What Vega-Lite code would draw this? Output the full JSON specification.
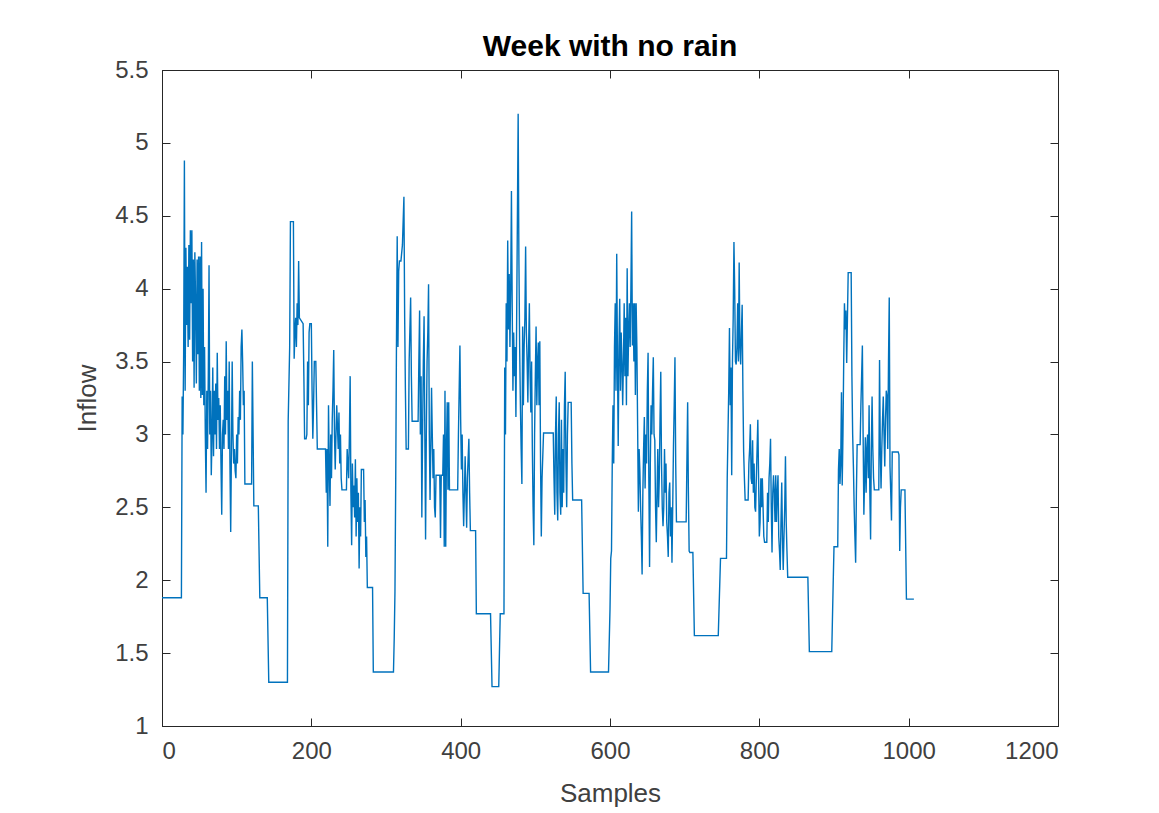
{
"$schema": "https://vega.github.io/schema/vega-lite/v6.json",
"width": 896, "height": 656,
"autosize": {"type": "none"},
"padding": {"left": 162, "top": 70, "right": 101, "bottom": 87},
"background": "white",
"title": {"text": "Week with no rain", "fontSize": 30, "fontWeight": "bold", "font": "Liberation Sans", "color": "#000000", "offset": -4},
"data": {"values": [
{"s":0,"v":1.88},{"s":26,"v":1.88},{"s":27,"v":3.26},{"s":28,"v":3.0},{"s":29,"v":3.55},{"s":30,"v":4.88},{"s":31,"v":3.3},{"s":32,"v":4.28},{"s":33,"v":3.75},{"s":34,"v":4.15},{"s":35,"v":3.6},{"s":36,"v":4.3},{"s":37,"v":3.65},{"s":38,"v":4.4},{"s":39,"v":3.9},{"s":40,"v":4.4},{"s":41,"v":3.5},{"s":42,"v":4.2},{"s":43,"v":3.32},{"s":44,"v":4.25},{"s":45,"v":3.9},{"s":46,"v":3.35},{"s":47,"v":4.2},{"s":48,"v":3.55},{"s":49,"v":4.22},{"s":50,"v":3.3},{"s":51,"v":4.22},{"s":52,"v":3.25},{"s":53,"v":4.32},{"s":54,"v":3.27},{"s":55,"v":4.0},{"s":56,"v":3.2},{"s":57,"v":3.6},{"s":58,"v":3.0},{"s":59,"v":2.6},{"s":60,"v":3.3},{"s":61,"v":2.9},{"s":62,"v":3.4},{"s":63,"v":4.16},{"s":64,"v":3.0},{"s":65,"v":3.3},{"s":66,"v":2.72},{"s":67,"v":3.0},{"s":68,"v":3.46},{"s":69,"v":2.85},{"s":70,"v":3.3},{"s":71,"v":3.0},{"s":72,"v":3.35},{"s":73,"v":2.9},{"s":74,"v":3.56},{"s":75,"v":3.1},{"s":76,"v":3.25},{"s":77,"v":2.9},{"s":78,"v":3.2},{"s":79,"v":2.8},{"s":80,"v":2.45},{"s":81,"v":3.0},{"s":82,"v":3.1},{"s":83,"v":2.9},{"s":84,"v":3.4},{"s":85,"v":3.0},{"s":86,"v":3.64},{"s":87,"v":3.1},{"s":88,"v":3.3},{"s":89,"v":2.9},{"s":90,"v":3.5},{"s":91,"v":2.8},{"s":92,"v":2.33},{"s":93,"v":2.9},{"s":94,"v":3.5},{"s":95,"v":3.0},{"s":96,"v":2.8},{"s":97,"v":2.9},{"s":98,"v":2.75},{"s":99,"v":2.7},{"s":100,"v":3.0},{"s":101,"v":2.8},{"s":102,"v":3.12},{"s":103,"v":3.0},{"s":104,"v":3.3},{"s":105,"v":3.1},{"s":106,"v":3.6},{"s":107,"v":3.72},{"s":108,"v":3.5},{"s":109,"v":3.2},{"s":110,"v":3.3},{"s":111,"v":2.66},{"s":120,"v":2.66},{"s":121,"v":3.5},{"s":123,"v":2.51},{"s":129,"v":2.51},{"s":131,"v":1.88},{"s":141,"v":1.88},{"s":143,"v":1.3},{"s":168,"v":1.3},{"s":169,"v":3.09},{"s":171,"v":3.6},{"s":172,"v":4.46},{"s":176,"v":4.46},{"s":177,"v":3.52},{"s":178,"v":3.7},{"s":179,"v":3.8},{"s":180,"v":3.6},{"s":181,"v":3.9},{"s":182,"v":3.75},{"s":183,"v":4.19},{"s":184,"v":3.8},{"s":189,"v":3.76},{"s":190,"v":3.4},{"s":191,"v":2.97},{"s":193,"v":2.97},{"s":194,"v":3.0},{"s":195,"v":3.5},{"s":196,"v":3.2},{"s":197,"v":3.7},{"s":198,"v":3.76},{"s":200,"v":3.76},{"s":201,"v":3.3},{"s":202,"v":2.97},{"s":203,"v":3.2},{"s":204,"v":3.5},{"s":206,"v":3.5},{"s":207,"v":3.2},{"s":208,"v":2.9},{"s":219,"v":2.9},{"s":220,"v":2.6},{"s":221,"v":2.9},{"s":222,"v":2.23},{"s":223,"v":3.2},{"s":224,"v":2.8},{"s":225,"v":2.51},{"s":226,"v":3.0},{"s":227,"v":2.7},{"s":228,"v":3.1},{"s":229,"v":3.3},{"s":230,"v":3.58},{"s":231,"v":3.0},{"s":232,"v":2.76},{"s":233,"v":3.0},{"s":234,"v":3.2},{"s":236,"v":2.9},{"s":237,"v":3.15},{"s":238,"v":2.8},{"s":239,"v":3.0},{"s":240,"v":2.7},{"s":241,"v":2.62},{"s":247,"v":2.62},{"s":248,"v":2.9},{"s":250,"v":2.7},{"s":251,"v":3.0},{"s":252,"v":3.4},{"s":253,"v":2.6},{"s":254,"v":2.24},{"s":255,"v":2.8},{"s":256,"v":2.5},{"s":257,"v":2.65},{"s":258,"v":2.43},{"s":259,"v":2.83},{"s":260,"v":2.3},{"s":261,"v":2.7},{"s":262,"v":2.4},{"s":263,"v":2.6},{"s":264,"v":2.08},{"s":265,"v":2.5},{"s":266,"v":2.3},{"s":267,"v":2.76},{"s":270,"v":2.76},{"s":271,"v":2.4},{"s":272,"v":2.55},{"s":273,"v":2.16},{"s":274,"v":2.3},{"s":275,"v":1.95},{"s":282,"v":1.95},{"s":283,"v":1.37},{"s":310,"v":1.37},{"s":311,"v":1.6},{"s":312,"v":1.92},{"s":313,"v":2.67},{"s":314,"v":3.61},{"s":315,"v":4.36},{"s":316,"v":3.6},{"s":317,"v":4.12},{"s":318,"v":4.19},{"s":320,"v":4.19},{"s":322,"v":4.3},{"s":324,"v":4.63},{"s":325,"v":3.8},{"s":326,"v":3.3},{"s":327,"v":2.9},{"s":330,"v":2.9},{"s":331,"v":3.5},{"s":333,"v":3.94},{"s":334,"v":3.4},{"s":335,"v":3.09},{"s":343,"v":3.09},{"s":344,"v":3.5},{"s":345,"v":3.85},{"s":346,"v":3.0},{"s":347,"v":3.4},{"s":348,"v":2.43},{"s":349,"v":3.0},{"s":350,"v":3.5},{"s":351,"v":3.81},{"s":352,"v":3.0},{"s":353,"v":2.28},{"s":354,"v":3.0},{"s":355,"v":3.5},{"s":356,"v":3.7},{"s":357,"v":4.03},{"s":358,"v":3.0},{"s":359,"v":2.55},{"s":360,"v":2.9},{"s":361,"v":3.32},{"s":362,"v":3.0},{"s":363,"v":2.7},{"s":364,"v":2.9},{"s":365,"v":2.5},{"s":366,"v":2.43},{"s":367,"v":2.72},{"s":372,"v":2.72},{"s":373,"v":2.29},{"s":374,"v":2.72},{"s":376,"v":2.72},{"s":377,"v":3.0},{"s":378,"v":2.23},{"s":379,"v":3.3},{"s":380,"v":2.23},{"s":381,"v":2.9},{"s":382,"v":3.22},{"s":383,"v":2.62},{"s":384,"v":3.22},{"s":385,"v":2.62},{"s":396,"v":2.62},{"s":397,"v":3.0},{"s":399,"v":3.61},{"s":400,"v":3.1},{"s":401,"v":2.76},{"s":402,"v":3.0},{"s":403,"v":2.6},{"s":404,"v":2.37},{"s":405,"v":2.6},{"s":406,"v":2.85},{"s":407,"v":2.6},{"s":408,"v":2.36},{"s":409,"v":2.7},{"s":411,"v":2.97},{"s":412,"v":2.6},{"s":413,"v":2.34},{"s":420,"v":2.34},{"s":421,"v":1.77},{"s":440,"v":1.77},{"s":442,"v":1.27},{"s":451,"v":1.27},{"s":453,"v":1.77},{"s":458,"v":1.77},{"s":459,"v":3.46},{"s":460,"v":3.0},{"s":461,"v":3.9},{"s":462,"v":3.5},{"s":463,"v":4.33},{"s":464,"v":3.72},{"s":465,"v":4.1},{"s":466,"v":3.6},{"s":467,"v":4.0},{"s":468,"v":4.67},{"s":469,"v":3.9},{"s":470,"v":3.3},{"s":471,"v":3.7},{"s":472,"v":3.4},{"s":473,"v":3.6},{"s":474,"v":3.12},{"s":475,"v":3.8},{"s":476,"v":4.5},{"s":477,"v":5.2},{"s":478,"v":4.2},{"s":479,"v":3.6},{"s":480,"v":3.2},{"s":481,"v":2.9},{"s":482,"v":2.66},{"s":483,"v":3.74},{"s":484,"v":3.2},{"s":485,"v":3.6},{"s":486,"v":3.8},{"s":487,"v":4.29},{"s":488,"v":3.7},{"s":489,"v":3.5},{"s":490,"v":3.22},{"s":491,"v":3.6},{"s":492,"v":3.9},{"s":493,"v":3.4},{"s":494,"v":3.15},{"s":495,"v":3.5},{"s":496,"v":2.9},{"s":497,"v":2.5},{"s":498,"v":2.24},{"s":499,"v":3.0},{"s":500,"v":3.4},{"s":501,"v":3.74},{"s":502,"v":3.2},{"s":503,"v":3.5},{"s":504,"v":3.63},{"s":505,"v":3.2},{"s":506,"v":3.64},{"s":507,"v":2.8},{"s":508,"v":2.3},{"s":509,"v":2.7},{"s":511,"v":3.01},{"s":524,"v":3.01},{"s":525,"v":2.7},{"s":526,"v":2.45},{"s":527,"v":3.0},{"s":528,"v":3.26},{"s":529,"v":2.6},{"s":530,"v":2.41},{"s":531,"v":3.0},{"s":532,"v":3.22},{"s":533,"v":2.6},{"s":534,"v":2.45},{"s":535,"v":3.1},{"s":536,"v":2.5},{"s":537,"v":2.9},{"s":538,"v":2.6},{"s":539,"v":3.2},{"s":540,"v":3.43},{"s":541,"v":2.8},{"s":542,"v":2.5},{"s":543,"v":3.0},{"s":544,"v":3.22},{"s":548,"v":3.22},{"s":549,"v":2.8},{"s":550,"v":2.55},{"s":562,"v":2.55},{"s":564,"v":1.91},{"s":572,"v":1.91},{"s":574,"v":1.37},{"s":598,"v":1.37},{"s":600,"v":1.8},{"s":601,"v":2.15},{"s":602,"v":2.2},{"s":603,"v":2.79},{"s":604,"v":3.2},{"s":605,"v":2.8},{"s":606,"v":3.6},{"s":607,"v":3.9},{"s":608,"v":3.3},{"s":609,"v":4.24},{"s":610,"v":3.5},{"s":611,"v":2.92},{"s":612,"v":3.6},{"s":613,"v":3.93},{"s":614,"v":3.3},{"s":615,"v":3.7},{"s":616,"v":3.5},{"s":617,"v":3.2},{"s":618,"v":3.5},{"s":619,"v":3.9},{"s":620,"v":3.4},{"s":621,"v":3.8},{"s":622,"v":3.2},{"s":623,"v":4.14},{"s":624,"v":3.4},{"s":625,"v":3.7},{"s":626,"v":3.9},{"s":627,"v":3.6},{"s":628,"v":4.0},{"s":629,"v":4.53},{"s":630,"v":3.61},{"s":631,"v":3.9},{"s":632,"v":3.5},{"s":633,"v":3.9},{"s":634,"v":3.27},{"s":635,"v":3.9},{"s":636,"v":3.6},{"s":637,"v":3.06},{"s":638,"v":2.47},{"s":639,"v":2.9},{"s":640,"v":2.75},{"s":641,"v":2.5},{"s":642,"v":2.3},{"s":643,"v":2.04},{"s":644,"v":2.6},{"s":645,"v":2.9},{"s":646,"v":3.12},{"s":647,"v":2.63},{"s":648,"v":3.0},{"s":649,"v":2.8},{"s":650,"v":3.3},{"s":651,"v":3.56},{"s":652,"v":2.7},{"s":653,"v":2.09},{"s":654,"v":2.8},{"s":655,"v":3.2},{"s":656,"v":3.0},{"s":657,"v":3.3},{"s":658,"v":3.53},{"s":659,"v":3.0},{"s":660,"v":2.96},{"s":661,"v":2.5},{"s":662,"v":2.26},{"s":663,"v":2.6},{"s":664,"v":2.9},{"s":665,"v":2.5},{"s":666,"v":2.7},{"s":667,"v":3.1},{"s":668,"v":3.43},{"s":669,"v":2.8},{"s":670,"v":2.5},{"s":671,"v":2.37},{"s":672,"v":2.5},{"s":673,"v":2.9},{"s":674,"v":2.6},{"s":675,"v":2.8},{"s":676,"v":2.4},{"s":677,"v":2.3},{"s":678,"v":2.16},{"s":679,"v":2.6},{"s":680,"v":2.67},{"s":681,"v":2.3},{"s":682,"v":2.5},{"s":683,"v":2.12},{"s":684,"v":2.5},{"s":685,"v":2.92},{"s":686,"v":3.2},{"s":687,"v":3.53},{"s":688,"v":2.8},{"s":689,"v":2.4},{"s":702,"v":2.4},{"s":704,"v":3.22},{"s":705,"v":2.6},{"s":706,"v":2.2},{"s":707,"v":2.19},{"s":711,"v":2.19},{"s":713,"v":1.62},{"s":745,"v":1.62},{"s":748,"v":2.15},{"s":756,"v":2.15},{"s":757,"v":2.7},{"s":759,"v":3.3},{"s":760,"v":3.73},{"s":761,"v":3.2},{"s":762,"v":3.46},{"s":763,"v":2.72},{"s":764,"v":3.5},{"s":765,"v":3.8},{"s":766,"v":4.32},{"s":767,"v":4.0},{"s":768,"v":3.5},{"s":769,"v":3.48},{"s":770,"v":3.6},{"s":771,"v":3.9},{"s":772,"v":3.5},{"s":773,"v":4.18},{"s":774,"v":3.6},{"s":775,"v":3.48},{"s":776,"v":3.7},{"s":777,"v":3.89},{"s":778,"v":3.3},{"s":779,"v":2.88},{"s":780,"v":2.7},{"s":781,"v":2.55},{"s":785,"v":2.55},{"s":786,"v":2.8},{"s":787,"v":2.9},{"s":788,"v":3.07},{"s":789,"v":2.7},{"s":790,"v":2.66},{"s":791,"v":2.96},{"s":792,"v":2.6},{"s":793,"v":2.8},{"s":794,"v":2.5},{"s":795,"v":2.47},{"s":796,"v":2.7},{"s":797,"v":2.9},{"s":798,"v":3.1},{"s":799,"v":2.7},{"s":800,"v":2.3},{"s":801,"v":2.4},{"s":802,"v":2.7},{"s":803,"v":2.5},{"s":804,"v":2.7},{"s":805,"v":2.5},{"s":806,"v":2.3},{"s":807,"v":2.26},{"s":810,"v":2.26},{"s":811,"v":2.6},{"s":812,"v":2.4},{"s":813,"v":2.7},{"s":814,"v":2.8},{"s":815,"v":2.97},{"s":816,"v":2.5},{"s":817,"v":2.19},{"s":818,"v":2.6},{"s":819,"v":2.72},{"s":820,"v":2.6},{"s":821,"v":2.4},{"s":822,"v":2.72},{"s":823,"v":2.4},{"s":824,"v":2.6},{"s":825,"v":2.72},{"s":826,"v":2.3},{"s":827,"v":2.2},{"s":828,"v":2.07},{"s":829,"v":2.4},{"s":830,"v":2.67},{"s":831,"v":2.3},{"s":832,"v":2.07},{"s":833,"v":2.3},{"s":834,"v":2.5},{"s":835,"v":2.85},{"s":836,"v":2.4},{"s":837,"v":2.2},{"s":838,"v":2.02},{"s":865,"v":2.02},{"s":867,"v":1.51},{"s":897,"v":1.51},{"s":899,"v":2.0},{"s":900,"v":2.23},{"s":905,"v":2.23},{"s":906,"v":2.76},{"s":907,"v":2.9},{"s":908,"v":2.66},{"s":909,"v":2.8},{"s":910,"v":3.29},{"s":911,"v":2.65},{"s":912,"v":3.0},{"s":913,"v":3.5},{"s":914,"v":3.9},{"s":915,"v":3.72},{"s":916,"v":3.85},{"s":917,"v":3.49},{"s":918,"v":3.8},{"s":919,"v":4.11},{"s":923,"v":4.11},{"s":924,"v":3.4},{"s":925,"v":3.0},{"s":926,"v":2.78},{"s":927,"v":2.5},{"s":928,"v":2.3},{"s":929,"v":2.12},{"s":930,"v":2.6},{"s":931,"v":2.93},{"s":935,"v":2.93},{"s":936,"v":3.2},{"s":937,"v":3.4},{"s":938,"v":3.61},{"s":939,"v":3.0},{"s":940,"v":2.45},{"s":941,"v":2.7},{"s":942,"v":2.98},{"s":943,"v":2.6},{"s":944,"v":2.9},{"s":945,"v":3.0},{"s":946,"v":2.7},{"s":947,"v":3.2},{"s":948,"v":2.6},{"s":949,"v":2.28},{"s":950,"v":2.9},{"s":951,"v":3.26},{"s":952,"v":2.9},{"s":953,"v":2.7},{"s":954,"v":2.62},{"s":960,"v":2.62},{"s":961,"v":3.51},{"s":962,"v":2.9},{"s":963,"v":2.63},{"s":964,"v":2.9},{"s":965,"v":3.1},{"s":966,"v":3.26},{"s":967,"v":3.0},{"s":968,"v":2.78},{"s":969,"v":3.1},{"s":970,"v":3.3},{"s":971,"v":3.26},{"s":972,"v":2.9},{"s":973,"v":3.5},{"s":974,"v":3.94},{"s":975,"v":2.78},{"s":976,"v":2.6},{"s":977,"v":2.41},{"s":978,"v":2.88},{"s":986,"v":2.88},{"s":987,"v":2.86},{"s":988,"v":2.2},{"s":989,"v":2.5},{"s":990,"v":2.62},{"s":995,"v":2.62},{"s":997,"v":1.87},{"s":1007,"v":1.87}
]},
"layer": [
{"mark": {"type": "line", "color": "#0072BD", "strokeWidth": 1.1, "opacity": 0},
 "encoding": {
  "x": {"field": "s", "type": "quantitative", "scale": {"domain": [0, 1200], "nice": false, "zero": false},
        "axis": {"orient": "top", "values": [0,200,400,600,800,1000,1200], "labels": false, "title": null, "tickSize": -8, "domain": false}},
  "y": {"field": "v", "type": "quantitative", "scale": {"domain": [1, 5.5], "nice": false, "zero": false},
        "axis": {"orient": "right", "values": [1,1.5,2,2.5,3,3.5,4,4.5,5,5.5], "labels": false, "title": null, "tickSize": -8, "domain": false}}
 }},
{"mark": {"type": "line", "color": "#0072BD", "strokeWidth": 1.4},
 "encoding": {
  "x": {"field": "s", "type": "quantitative", "scale": {"domain": [0, 1200], "nice": false, "zero": false},
        "axis": {"orient": "bottom", "values": [0,200,400,600,800,1000,1200], "format": "d", "title": "Samples", "tickSize": -8, "labelPadding": 21, "titlePadding": 17}},
  "y": {"field": "v", "type": "quantitative", "scale": {"domain": [1, 5.5], "nice": false, "zero": false},
        "axis": {"orient": "left", "values": [1,1.5,2,2.5,3,3.5,4,4.5,5,5.5], "format": "~g", "title": "Inflow", "tickSize": -8, "labelPadding": 22, "titlePadding": 14}}
 }}
],
"resolve": {"axis": {"x": "independent", "y": "independent"}},
"config": {
 "view": {"stroke": "#262626", "strokeWidth": 1},
 "axis": {"grid": false, "domainColor": "#262626", "tickColor": "#262626", "labelColor": "#404040", "titleColor": "#404040", "labelFont": "Liberation Sans", "titleFont": "Liberation Sans", "labelFontSize": 24, "titleFontSize": 26, "titleFontWeight": "normal", "tickWidth": 1, "domainWidth": 1}
}
}
